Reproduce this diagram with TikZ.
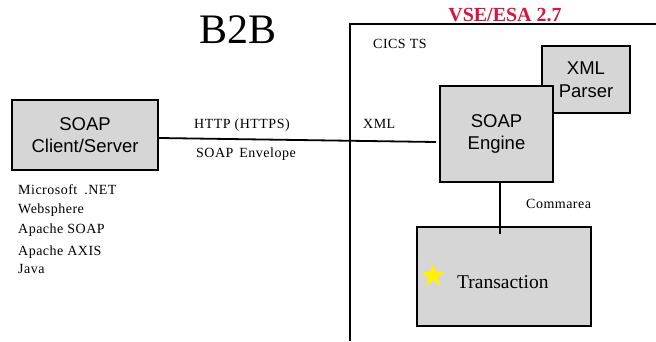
\documentclass[tikz,border=0pt]{standalone}
\usepackage{fontspec}
\setmainfont{Liberation Serif}
\setsansfont{Liberation Sans}
\newfontfamily\lblfont[LetterSpace=3.5]{Liberation Serif}
\usetikzlibrary{shapes.geometric}
\definecolor{boxgray}{RGB}{214,214,214}
\definecolor{vsered}{RGB}{218,20,60}
\begin{document}
\begin{tikzpicture}[x=1pt,y=-1pt,
  box/.style={draw=black,line width=2pt,fill=boxgray,inner sep=0pt,align=center,
    font=\sffamily\fontsize{18.5}{22.5}\selectfont},
  lbl/.style={inner sep=0pt,anchor=base west,font=\lblfont\fontsize{14}{16}\selectfont},
  conn/.style={draw=black,line width=1.8pt}]
\useasboundingbox (0,0) rectangle (656,341);
\fill[white] (0,0) rectangle (656,341);
% titles
\node[inner sep=0pt,anchor=base,font=\fontsize{42}{48}\selectfont] (b2b) at (238,43) {B2B};
\node[inner sep=0pt,anchor=base,text=vsered,font=\bfseries\fontsize{20}{24}\selectfont] (vse) at (505,21) {VSE/ESA 2.7};
% frame
\coordinate (ftr) at (656,24);
\coordinate (ftl) at (350,24);
\coordinate (fbl) at (350,341);
\draw[line width=2pt] (ftr) -- (ftl) -- (fbl);
% boxes
\node[box,minimum width=146pt,minimum height=70pt] (client) at (85,135) {SOAP\\Client/Server};
\node[box,minimum width=88pt,minimum height=67pt] (parser) at (586,79.5) {XML\\Parser};
\node[box,minimum width=113pt,minimum height=96pt] (engine) at (496.5,134) {SOAP\\Engine};
\node[box,minimum width=174pt,minimum height=99pt] (trans) at (504,276.5) {};
\node[star,star points=5,star point ratio=2.4,fill=yellow,inner sep=0pt,minimum size=24pt] (star) at (433,276) {};
\node[inner sep=0pt,anchor=base west,font=\fontsize{19.5}{22}\selectfont] (translbl) at (457,288) {Transaction};
% connectors
\draw[conn] ([yshift=-3pt]client.east) -- ([xshift=-3pt,yshift=-8pt]engine.west);
\draw[conn] ([xshift=3.5pt]engine.south) -- ([xshift=-4pt,yshift=-8pt]trans.north);
% labels
\node[lbl] (http) at (194,128) {HTTP (HTTPS)};
\node[lbl] (env) at (196,157) {SOAP\hspace{2pt} Envelope};
\node[lbl] (xml) at (363,128) {XML};
\node[lbl] (cics) at (373,48) {CICS TS};
\node[lbl] (comm) at (526,208) {Commarea};
\node[lbl] (ms) at (18,194) {Microsoft\hspace{3pt} .NET};
\node[lbl] (ws) at (18,213) {Websphere};
\node[lbl] (as) at (18,233) {Apache SOAP};
\node[lbl] (ax) at (18,255) {Apache AXIS};
\node[lbl] (java) at (18,273) {Java};
\end{tikzpicture}
\end{document}
